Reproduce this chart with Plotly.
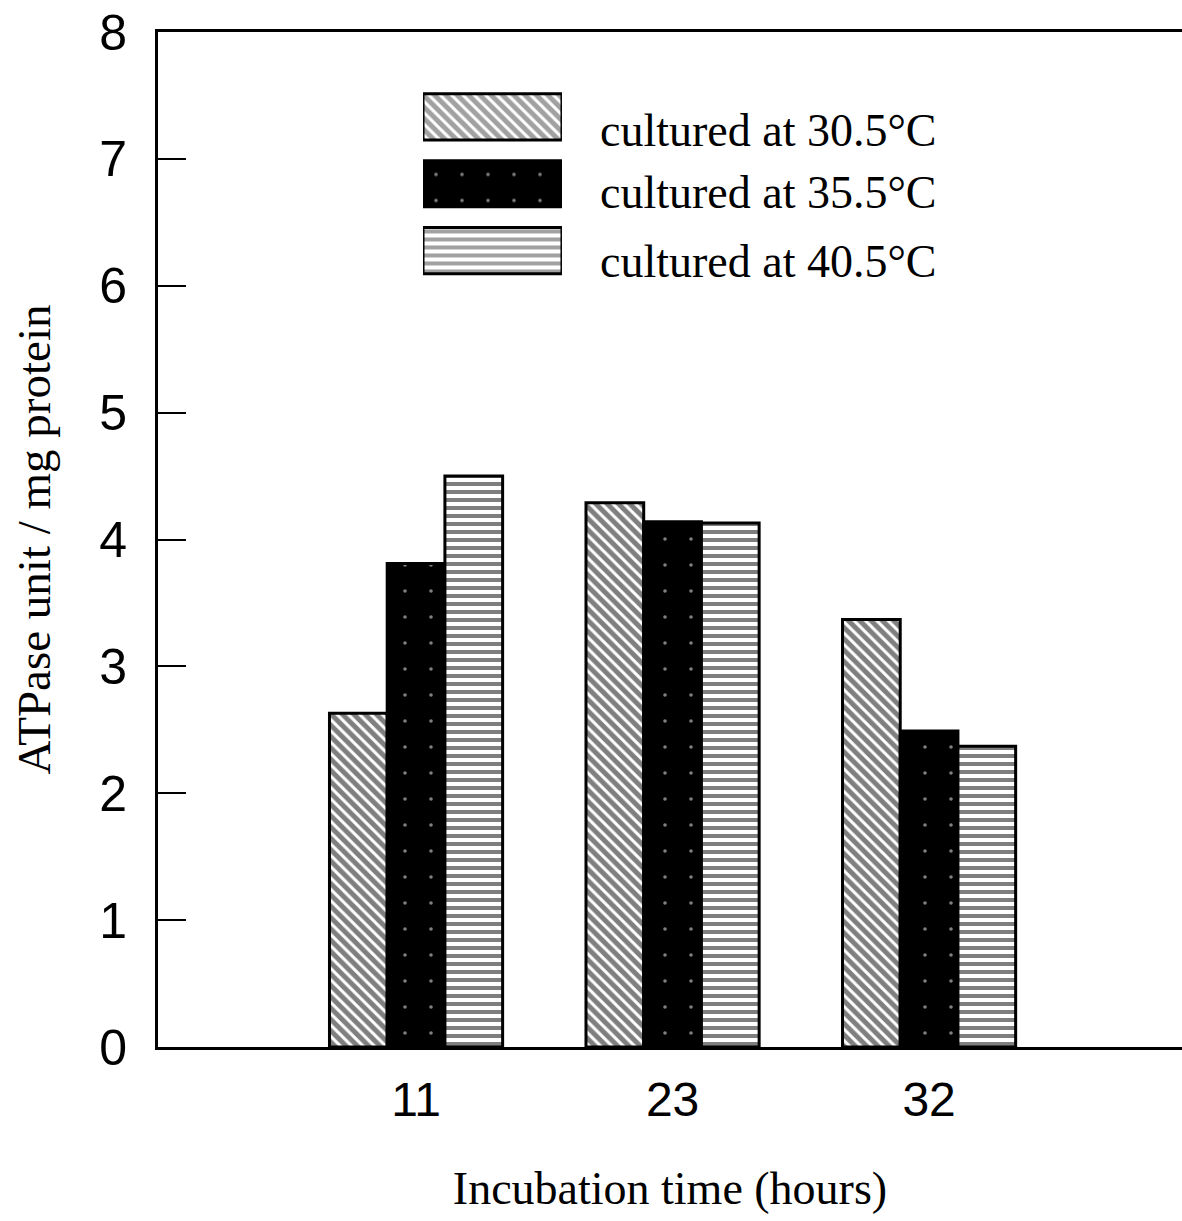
import plotly.graph_objects as go

# Incubation times (categories) and culture temperatures (series)
hours = ["11", "23", "32"]
temps = ["30.5", "35.5", "40.5"]

# ATPase activity (unit / mg protein) for each culture temperature
atpase_305 = [2.63, 4.29, 3.37]
atpase_355 = [3.81, 4.14, 2.49]
atpase_405 = [4.50, 4.13, 2.37]

y_ticks = [0, 1, 2, 3, 4, 5, 6, 7, 8]

series = [atpase_305, atpase_355, atpase_405]
legend_labels = [f"cultured at {t}°C" for t in temps]

# fill style per series: diagonal hatch, dark speckled, horizontal stripes
fill_color = ["white", "black", "white"]
pat_shape = ["\\", ".", "-"]
pat_fg = ["black", "white", "black"]
pat_bg = ["white", "black", "white"]
pat_size = [8, 26, 8]
pat_solid = [0.62, 0.015, 0.5]

SANS = "Liberation Sans, Arial, sans-serif"
SERIF = "Liberation Serif, Times New Roman, serif"

fig = go.Figure()

for i, vals in enumerate(series):
    fig.add_trace(go.Bar(
        x=hours, y=vals, name=legend_labels[i],
        marker=dict(
            color=fill_color[i],
            pattern=dict(shape=pat_shape[i], fgcolor=pat_fg[i], bgcolor=pat_bg[i],
                         size=pat_size[i], solidity=pat_solid[i]),
            line=dict(color="black", width=3),
        ),
        showlegend=False,
    ))

# legend keys: one horizontal bar per series on a small hidden axis pair
fig.add_trace(go.Bar(
    x=[1, 1, 1], y=[0, 1, 2], orientation="h", width=0.69,
    xaxis="x2", yaxis="y2", showlegend=False, hoverinfo="skip",
    marker=dict(
        color=fill_color,
        pattern=dict(shape=pat_shape, fgcolor=pat_fg, bgcolor=pat_bg,
                     size=pat_size, solidity=pat_solid),
        line=dict(color="black", width=3),
    ),
))

legend_y = [0.9034, 0.8414, 0.7734]
for lbl, yy in zip(legend_labels, legend_y):
    fig.add_annotation(
        text=lbl, xref="paper", yref="paper", x=0.4297, y=yy,
        xanchor="left", yanchor="middle", showarrow=False,
        font=dict(family=SERIF, size=46, color="black"),
    )

fig.update_layout(
    width=1182, height=1221,
    margin=dict(l=158, r=0, t=32, b=174),
    paper_bgcolor="white", plot_bgcolor="white",
    barmode="group", bargap=0.325, bargroupgap=0,
    showlegend=False,
    xaxis=dict(
        type="category", range=[-1.006, 2.986],
        showline=True, linecolor="black", linewidth=3, mirror=True,
        ticks="", showgrid=False, zeroline=False,
        tickfont=dict(family=SANS, size=48, color="black"),
        ticklabelstandoff=8,
        title=dict(text="Incubation time (hours)", standoff=48,
                   font=dict(family=SERIF, size=46, color="black")),
    ),
    yaxis=dict(
        range=[0, 8], tickvals=y_ticks,
        showline=True, linecolor="black", linewidth=3, mirror=False,
        ticks="inside", ticklen=28, tickwidth=2, tickcolor="black",
        showgrid=False, zeroline=False,
        tickfont=dict(family=SANS, size=50, color="black"),
        ticklabelstandoff=18,
        title=dict(text="ATPase unit / mg protein", standoff=34,
                   font=dict(family=SERIF, size=47, color="black")),
    ),
    xaxis2=dict(domain=[0.2588, 0.3945], range=[0, 1], anchor="y2", visible=False),
    yaxis2=dict(domain=[0.7517, 0.9493], range=[2.5, -0.5], anchor="x2", visible=False),
)

fig.write_html("out.html")
